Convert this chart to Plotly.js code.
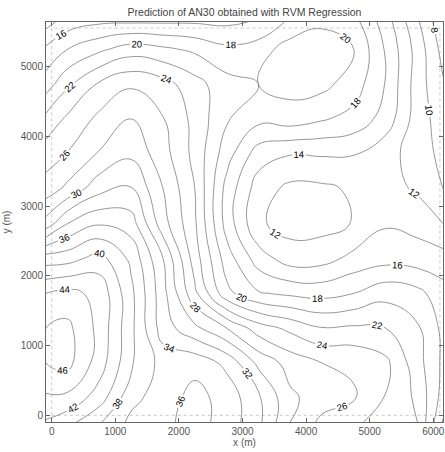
<!DOCTYPE html>
<html>
<head>
<meta charset="utf-8">
<script src="https://cdn.plot.ly/plotly-3.0.1.min.js"></script>
<style>html,body{margin:0;padding:0;background:#fff;}#chart{width:445px;height:452px;}</style>
</head>
<body>
<div id="chart"></div>
<script>
// Grid coordinates (m) at which the prediction surface was read
const xGrid = [-90, 250, 750, 1250, 1750, 2250, 2750, 3250, 3750, 4250, 4750, 5250, 5750, 6153];
const yGrid = [-96, 250, 750, 1250, 1750, 2250, 2750, 3250, 3750, 4250, 4750, 5250, 5642];

// Predicted AN30, one row per yGrid value (bottom to top)
const row0  = [41.8, 40.7, 38.2, 35.5, 35.5, 36.8, 35.2, 32.5, 28.0, 25.5, 24.4, 23.1, 22.0, 15.8];
const row1  = [43.7, 43.5, 41.0, 36.6, 35.0, 36.7, 35.2, 32.4, 28.4, 27.0, 26.2, 23.9, 21.6, 17.2];
const row2  = [46.0, 46.6, 43.0, 38.3, 35.2, 35.3, 33.5, 29.5, 27.2, 26.0, 25.7, 24.5, 20.8, 17.6];
const row3  = [46.0, 46.5, 43.4, 38.5, 33.0, 30.5, 28.0, 25.0, 23.5, 22.1, 22.3, 22.0, 20.3, 17.5];
const row4  = [44.0, 44.6, 43.4, 38.5, 32.7, 26.5, 20.6, 18.2, 17.6, 17.3, 18.0, 19.3, 18.6, 16.8];
const row5  = [39.0, 39.2, 40.8, 37.5, 32.0, 25.0, 19.0, 15.0, 13.0, 13.2, 14.6, 15.2, 15.0, 14.8];
const row6  = [30.8, 34.0, 35.8, 35.0, 28.8, 24.3, 17.2, 12.3, 11.2, 11.3, 12.1, 13.8, 13.3, 12.0];
const row7  = [26.9, 28.5, 31.3, 32.1, 28.0, 24.0, 17.3, 13.0, 11.5, 11.6, 12.3, 12.8, 11.7, 10.0];
const row8  = [25.0, 26.1, 28.2, 29.6, 26.8, 23.4, 18.9, 15.0, 14.1, 14.2, 14.1, 12.6, 11.3, 9.3];
const row9  = [22.6, 24.4, 26.5, 28.0, 26.1, 23.4, 20.2, 18.6, 19.0, 18.2, 17.3, 15.2, 11.0, 9.0];
const row10 = [19.0, 21.6, 24.3, 25.7, 24.8, 22.8, 20.7, 20.0, 20.8, 20.6, 19.0, 15.9, 11.0, 8.2];
const row11 = [16.4, 18.0, 19.6, 21.0, 20.4, 19.6, 18.5, 19.0, 21.0, 21.5, 20.0, 15.8, 11.2, 7.3];
const row12 = [13.2, 15.0, 15.7, 15.8, 15.8, 15.8, 15.6, 16.2, 18.4, 19.5, 18.7, 15.0, 10.3, 6.5];

// Contour levels
const levelStart = 8, levelEnd = 46, levelStep = 2;

// Axis ticks
const xTicks = [0, 1000, 2000, 3000, 4000, 5000, 6000];
const yTicks = [0, 1000, 2000, 3000, 4000, 5000];

// Extent of the sampled domain (dotted frame)
const domainX = [0, 6105];
const domainY = [0, 5556];

const z = [row0, row1, row2, row3, row4, row5, row6, row7, row8, row9, row10, row11, row12];

const trace = {
  type: 'contour',
  x: xGrid,
  y: yGrid,
  z: z,
  autocontour: false,
  contours: {
    start: levelStart, end: levelEnd, size: levelStep,
    coloring: 'lines',
    showlabels: true,
    labelfont: {family: 'Liberation Sans, Arial, sans-serif', size: 9.5, color: '#000'}
  },
  colorscale: [[0, '#7c7c7c'], [1, '#7c7c7c']],
  showscale: false,
  line: {width: 0.8, smoothing: 1.3},
  hoverinfo: 'skip'
};

const axisFont = {family: 'Liberation Sans, Arial, sans-serif', size: 10, color: '#555'};

const layout = {
  width: 445, height: 452,
  margin: {l: 46, r: 2, t: 22, b: 30},
  paper_bgcolor: '#fff', plot_bgcolor: '#fff',
  title: {
    text: 'Prediction of AN30 obtained with RVM Regression',
    font: {family: 'Liberation Sans, Arial, sans-serif', size: 10.5, color: '#444'},
    x: 0.5, xref: 'paper', y: 0.972, yref: 'container', yanchor: 'middle'
  },
  xaxis: {
    range: [xGrid[0], xGrid[xGrid.length - 1]],
    tickvals: xTicks, ticktext: xTicks.map(String),
    ticks: 'inside', ticklen: 4, tickcolor: '#666',
    showline: true, linecolor: '#666', linewidth: 1, mirror: 'ticks',
    showgrid: false, zeroline: false,
    tickfont: axisFont,
    title: {text: 'x (m)', font: {family: 'Liberation Sans, Arial, sans-serif', size: 10, color: '#555'}, standoff: 2}
  },
  yaxis: {
    range: [yGrid[0], yGrid[yGrid.length - 1]],
    tickvals: yTicks, ticktext: yTicks.map(String),
    ticks: 'inside', ticklen: 4, tickcolor: '#666',
    showline: true, linecolor: '#666', linewidth: 1, mirror: 'ticks',
    showgrid: false, zeroline: false,
    tickfont: axisFont,
    title: {text: 'y (m)', font: {family: 'Liberation Sans, Arial, sans-serif', size: 10, color: '#555'}, standoff: 8}
  },
  shapes: [{
    type: 'rect', xref: 'x', yref: 'y',
    x0: domainX[0], x1: domainX[1], y0: domainY[0], y1: domainY[1],
    line: {color: '#c8c8c8', width: 1, dash: 'dot'}, layer: 'below'
  }],
  showlegend: false
};

Plotly.newPlot('chart', [trace], layout, {staticPlot: true, displayModeBar: false});
</script>
</body>
</html>
